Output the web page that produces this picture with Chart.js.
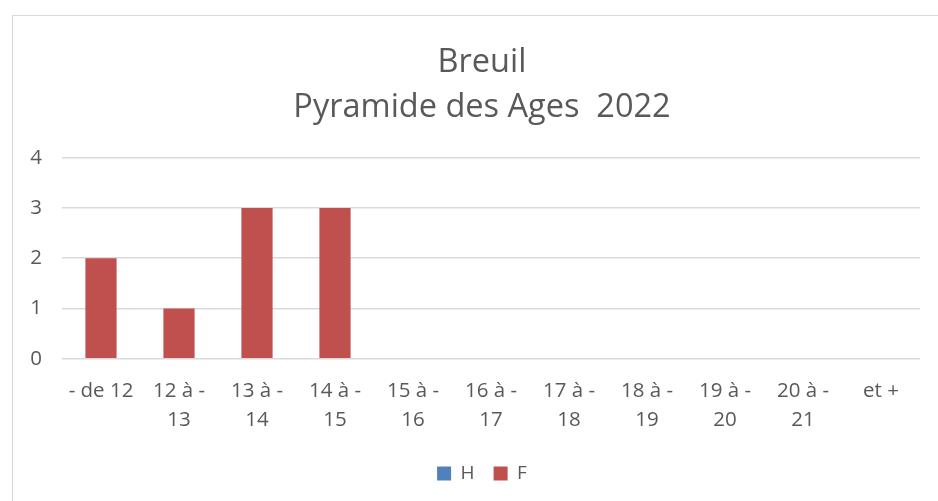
<!DOCTYPE html>
<html>
<head>
<meta charset="utf-8">
<script src="https://cdn.jsdelivr.net/npm/chart.js@4.4.0/dist/chart.umd.min.js"></script>
<style>
    body { margin: 0; background: #fff; overflow: hidden; }
    #frame {
        position: absolute; left: 12px; top: 15px;
        width: 926px; height: 486px; overflow: hidden;
        border-left: 1px solid #d9d9d9; border-top: 1px solid #d9d9d9;
    }
    #chart { display: block; }
</style>
</head>
<body>
<div id="frame"><canvas id="chart" width="938" height="485"></canvas></div>
<script>
const categories = [
    "- de 12", ["12 à -", "13"], ["13 à -", "14"], ["14 à -", "15"], ["15 à -", "16"],
    ["16 à -", "17"], ["17 à -", "18"], ["18 à -", "19"], ["19 à -", "20"], ["20 à -", "21"], "et +"
];
const hommes = [0, 0, 0, 0, 0, 0, 0, 0, 0, 0, 0];
const femmes = [2, 1, 3, 3, 0, 0, 0, 0, 0, 0, 0];
const titleLines = ["Breuil", "Pyramide des Ages  2022"];

const textColor = "#595959";
const gridColor = "#d9d9d9";
const font = "'Open Sans', 'Liberation Sans', sans-serif";

new Chart(document.querySelector("#chart"), {
    type: "bar",
    data: {
        labels: categories,
        datasets: [
            { label: "H", data: hommes, backgroundColor: "#4f81bd" },
            { label: "F", data: femmes, backgroundColor: "#c0504d" }
        ]
    },
    options: {
        responsive: false,
        animation: false,
        layout: { padding: { left: 0, right: 0, top: 14, bottom: 8 } },
        datasets: { bar: { categoryPercentage: 0.8, barPercentage: 0.5 } },
        plugins: {
            title: {
                display: true,
                text: titleLines,
                color: textColor,
                font: { family: font, size: 32.5, weight: "normal", lineHeight: 1.38 },
                padding: { top: 10, bottom: 28 }
            },
            legend: {
                position: "bottom",
                labels: {
                    color: textColor,
                    font: { family: font, size: 19 },
                    boxWidth: 14, boxHeight: 14,
                    padding: 19
                }
            },
            tooltip: { enabled: false }
        },
        scales: {
            x: {
                stacked: true,
                grid: { display: false },
                border: { display: false },
                ticks: {
                    color: textColor,
                    font: { family: font, size: 20.5, lineHeight: 1.42 },
                    maxRotation: 0, autoSkip: false, padding: 10
                }
            },
            y: {
                min: 0, max: 4,
                grid: { color: gridColor, lineWidth: 1.5, drawTicks: false },
                border: { display: false },
                ticks: {
                    stepSize: 1, color: textColor,
                    font: { family: font, size: 20.5 },
                    padding: 20
                },
                afterFit: axis => { axis.width = 49; }
            },
            // empty axis on the right, keeps the plot off the frame edge
            yRight: {
                position: "right",
                grid: { display: false, drawTicks: false },
                border: { display: false },
                ticks: { display: false },
                afterFit: axis => { axis.width = 31; }
            }
        }
    }
});
</script>
</body>
</html>
